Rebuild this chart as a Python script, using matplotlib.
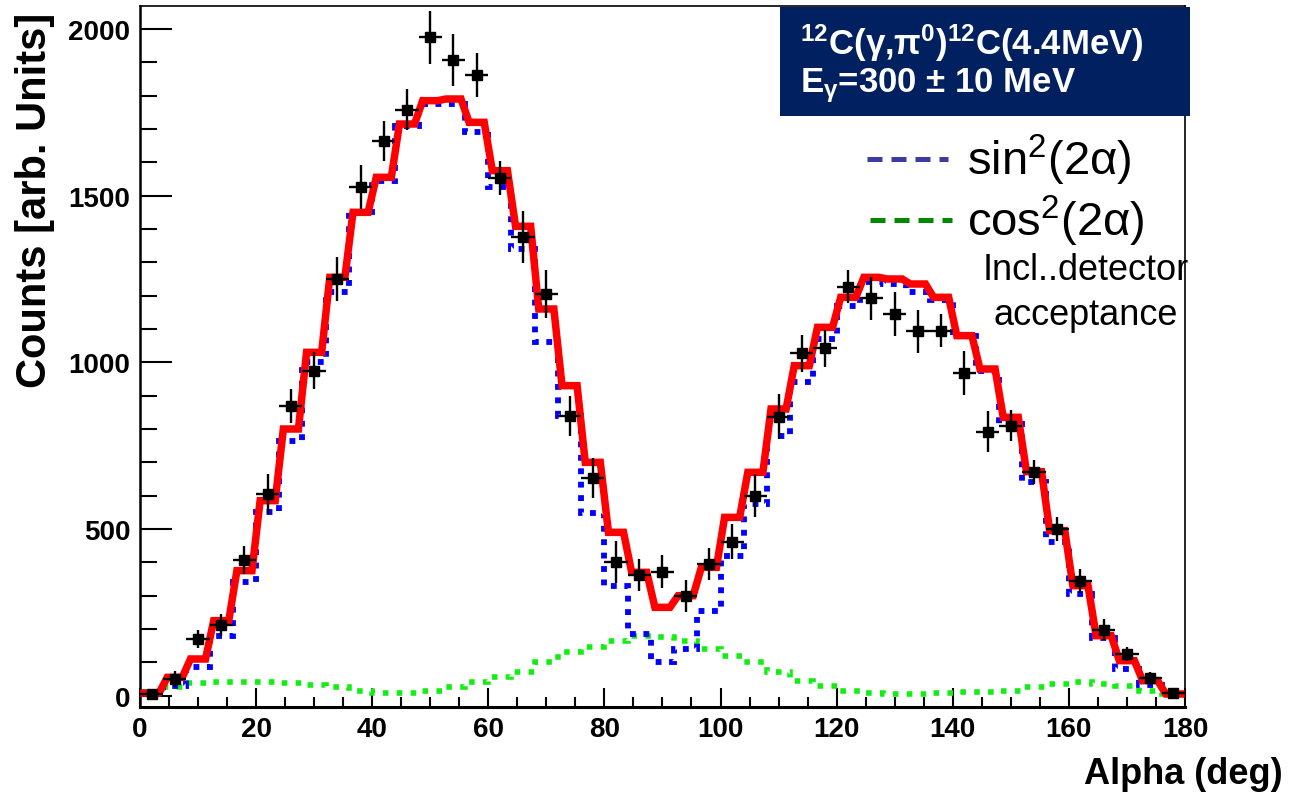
import numpy as np
import matplotlib
matplotlib.use("Agg")
import matplotlib.pyplot as plt
from matplotlib.patches import Rectangle
from matplotlib.lines import Line2D
from matplotlib.ticker import MultipleLocator

plt.rcParams['font.family'] = ['Liberation Sans', 'DejaVu Sans']
plt.rcParams['mathtext.fontset'] = 'custom'
plt.rcParams['mathtext.rm'] = 'Liberation Sans'
plt.rcParams['mathtext.it'] = 'Liberation Sans'
plt.rcParams['mathtext.bf'] = 'Liberation Sans:bold'

# 4 degree bins from 0 to 180
edges = np.arange(0, 181, 4)
centers = edges[:-1] + 2

# measured counts with errors
data = [5, 50, 170, 212, 408, 605, 870, 975, 1250, 1527, 1665, 1758, 1975, 1908, 1862,
        1553, 1377, 1205, 839, 652, 402, 363, 372, 298, 395, 462, 600, 837, 1027, 1042,
        1227, 1192, 1145, 1093, 1095, 968, 792, 810, 672, 500, 343, 198, 125, 52, 7]
data_err = [10, 25, 27, 33, 42, 60, 51, 55, 67, 66, 60, 61, 79, 78, 66,
            50, 78, 71, 60, 60, 63, 48, 50, 48, 48, 52, 65, 68, 55, 55,
            50, 65, 65, 65, 50, 65, 62, 46, 36, 35, 36, 32, 22, 19, 10]

# total simulation (red)
total = [8, 55, 110, 225, 375, 585, 800, 1030, 1255, 1450, 1555, 1715, 1785, 1790, 1720,
         1575, 1408, 1160, 930, 700, 490, 370, 265, 300, 385, 535, 670, 860, 990, 1105,
         1195, 1255, 1250, 1235, 1195, 1080, 980, 835, 672, 495, 330, 180, 105, 45, 5]

# sin^2(2 alpha) component (blue)
sin_part = [5, 30, 85, 180, 340, 550, 765, 1000, 1210, 1450, 1545, 1710, 1775, 1775, 1690,
            1525, 1340, 1060, 840, 548, 330, 185, 100, 140, 255, 420, 575, 780, 940, 1070,
            1170, 1240, 1235, 1210, 1188, 1078, 975, 815, 640, 460, 305, 173, 80, 32, 5]

# cos^2(2 alpha) component (green)
cos_part = [10, 25, 38, 40, 40, 40, 38, 32, 25, 15, 8, 8, 15, 25, 40,
            55, 70, 100, 130, 145, 165, 180, 175, 165, 140, 118, 100, 70, 45, 28,
            15, 8, 5, 5, 8, 10, 10, 15, 25, 35, 40, 35, 28, 15, 5]

fig = plt.figure(figsize=(13.03, 8.04), dpi=100)
ax = fig.add_axes([0.1074, 0.1194, 0.8020, 0.8719])

ax.stairs(cos_part, edges, baseline=None, color='#11ee11', lw=4.0,
          linestyle=(0, (1, 1.5)), zorder=2)
ax.stairs(sin_part, edges, baseline=None, color='#0000ff', lw=4.2,
          linestyle=(0, (1, 1.3)), zorder=3)

# red histogram drawn with slightly slanted risers
s = 0.7
rx, ry = [], []
for i, v in enumerate(total):
    rx += [edges[i] + s, edges[i + 1] - s]
    ry += [v, v]
ax.plot(rx, ry, color='#ff0000', lw=5.4, solid_joinstyle='miter', zorder=4)

ax.errorbar(centers, data, yerr=data_err, xerr=2, fmt='s', color='black',
            ms=7.3, elinewidth=1.7, capsize=0, zorder=5)

ax.set_xlim(0, 180)
ax.set_ylim(-34, 2069)
ax.xaxis.set_major_locator(MultipleLocator(20))
ax.xaxis.set_minor_locator(MultipleLocator(5))
ax.yaxis.set_major_locator(MultipleLocator(500))
ax.yaxis.set_minor_locator(MultipleLocator(100))
ax.tick_params(axis='x', which='major', direction='in', length=14, width=1.5, pad=6.5)
ax.tick_params(axis='x', which='minor', direction='in', length=7, width=1.5)
ax.tick_params(axis='y', which='major', direction='in', length=23, width=1.5, pad=7)
ax.tick_params(axis='y', which='minor', direction='in', length=12, width=1.5)
for lab in ax.get_xticklabels() + ax.get_yticklabels():
    lab.set_fontsize(20)
    lab.set_fontweight('bold')
ax.spines['left'].set_linewidth(1.8)
ax.spines['bottom'].set_linewidth(2.2)
ax.spines['top'].set_linewidth(1.2)
ax.spines['right'].set_linewidth(1.2)

fig.text(35 / 1303, 1 - 200 / 804, 'Counts [arb. Units]', rotation=90, fontsize=30,
         fontweight='bold', ha='center', va='center')
fig.text(1283 / 1303, 1 - 775 / 804, 'Alpha (deg)', fontsize=26, fontweight='bold',
         ha='right', va='center')

# header box
fig.add_artist(Rectangle((780 / 1303, 1 - 117 / 804), 410 / 1303, 109 / 804,
                         transform=fig.transFigure, facecolor='#002060',
                         edgecolor='none', zorder=10))
fig.text(800 / 1303, 1 - 43 / 804,
         r'$^{\mathbf{12}}$C(γ,π$^{\mathbf{0}}$)$^{\mathbf{12}}$C(4.4MeV)',
         color='white', fontsize=25, fontweight='bold', ha='left', va='center', zorder=11)
fig.text(800 / 1303, 1 - 86 / 804, r'E$_{\mathbf{\gamma}}$=300 ± 10 MeV', color='white',
         fontsize=25, fontweight='bold', ha='left', va='center', zorder=11)

# legend
fig.add_artist(Line2D([867 / 1303, 948 / 1303], [1 - 160 / 804] * 2, color='#3c3ca0',
                      lw=3.6, linestyle=(0, (3, 1.8))))
fig.add_artist(Line2D([870 / 1303, 952 / 1303], [1 - 221 / 804] * 2, color='#008800',
                      lw=3.6, linestyle=(0, (3, 1.8))))
fig.text(967 / 1303, 1 - 160 / 804, r'sin$^2$(2α)', fontsize=34, ha='left', va='center')
fig.text(967 / 1303, 1 - 221 / 804, r'cos$^2$(2α)', fontsize=34, ha='left', va='center')
fig.text(1086 / 1303, 1 - 271 / 804, 'Incl..detector', fontsize=26, ha='center', va='center')
fig.text(1086 / 1303, 1 - 316 / 804, 'acceptance', fontsize=26, ha='center', va='center')

fig.savefig('out.png', dpi=100)
